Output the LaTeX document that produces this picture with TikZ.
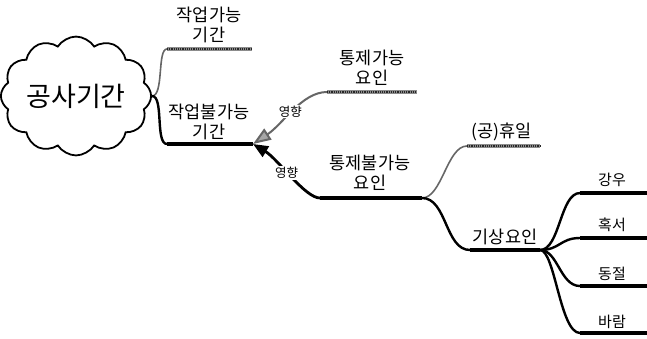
\documentclass[tikz,border=0pt]{standalone}
\usepackage{fontspec}
\newfontfamily\kr{Noto Sans CJK KR}
\usetikzlibrary{shapes.symbols,arrows.meta}
\begin{document}
\begin{tikzpicture}[x=1pt,y=-1pt,
  lbl/.style={font=\kr\fontsize{17.5}{20}\selectfont, align=center, inner sep=0pt},
  leaf/.style={font=\kr\fontsize{15}{16}\selectfont, inner sep=0pt},
  eff/.style={font=\kr\fontsize{12.5}{13}\selectfont, fill=white, inner sep=1pt},
  heavyline/.style={line width=4pt},
  heavycurve/.style={line width=2.4pt},
  grayline/.style={draw=black!45, line width=3.2pt,
     postaction={draw=black!85, line width=1.6pt, dash pattern=on 1.2pt off 1pt}},
  graycurve/.style={draw=black!60, line width=1.6pt},
  cloudbox/.style={cloud, draw, cloud puffs=12, cloud puff arc=115, cloud ignores aspect,
     minimum width=142pt, inner xsep=0pt, inner ysep=24pt, line width=1.8pt,
     font=\kr\fontsize{27}{30}\selectfont}
]
\useasboundingbox (0,0) rectangle (647,338);

% nodes
\node[cloudbox] (root) at (76,96) {공사기간};
\node[lbl] (tA) at (209,25) {작업가능\\기간};
\node[lbl] (tB) at (209,122) {작업불가능\\기간};
\node[lbl] (tC) at (372,68) {통제가능\\요인};
\node[lbl] (tD) at (370,173) {통제불가능\\요인};
\node[lbl] (tE) at (502,132) {(공)휴일};
\node[lbl] (tF) at (505,237) {기상요인};
\node[leaf] (tG) at (612,180) {강우};
\node[leaf] (tH) at (612,225) {혹서};
\node[leaf] (tI) at (612,274) {동절};
\node[leaf] (tJ) at (612,322) {바람};

% line ends
\coordinate (a1) at (167,49);  \coordinate (a2) at (252,49);
\coordinate (b1) at (167,144); \coordinate (b2) at (253,144);
\coordinate (c1) at (327,92);  \coordinate (c2) at (417,92);
\coordinate (d1) at (320,198); \coordinate (d2) at (422,198);
\coordinate (e1) at (467,146); \coordinate (e2) at (540,146);
\coordinate (f1) at (470,250); \coordinate (f2) at (540,250);
\coordinate (g1) at (580,193); \coordinate (g2) at (647,193);
\coordinate (h1) at (580,238); \coordinate (h2) at (647,238);
\coordinate (i1) at (580,286); \coordinate (i2) at (647,286);
\coordinate (j1) at (580,333); \coordinate (j2) at (647,333);

% cloud branches
\draw[graycurve] (root.east) .. controls +(12,0) and +(-10,0) .. (a1);
\path[grayline] (a1) -- (a2);
\draw[heavycurve] (root.east) .. controls +(12,0) and +(-12,0) .. (b1);
\draw[heavyline] (b1) -- (b2);

% controllable factors
\path[grayline] (c1) -- (c2);
\draw[graycurve, line width=2pt,
  -{Triangle[length=18pt,width=13pt,fill=black!35]}]
  (c1) .. controls +(-25,0) and +(30,-20) .. node[eff,pos=0.52]{영향} (b2);

% uncontrollable factors
\draw[heavyline] (d1) -- (d2);
\draw[heavycurve, line width=2.8pt, -{Triangle[length=15pt,width=12pt]}]
  (d1) .. controls +(-15,0) and +(25,15) .. node[eff,pos=0.55]{영향} (b2);

% holidays
\draw[graycurve] (d2) .. controls +(20,0) and +(-20,0) .. (e1);
\path[grayline] (e1) -- (e2);

% weather
\draw[heavycurve] (d2) .. controls +(25,0) and +(-25,0) .. (f1);
\draw[heavyline] (f1) -- (f2);

% fan
\draw[heavycurve] (f2) .. controls +(20,0) and +(-20,0) .. (g1);
\draw[heavyline] (g1) -- (g2);
\draw[heavycurve] (f2) .. controls +(20,0) and +(-20,0) .. (h1);
\draw[heavyline] (h1) -- (h2);
\draw[heavycurve] (f2) .. controls +(18,0) and +(-20,0) .. (i1);
\draw[heavyline] (i1) -- (i2);
\draw[heavycurve] (f2) .. controls +(15,0) and +(-20,0) .. (j1);
\draw[heavyline] (j1) -- (j2);
\end{tikzpicture}
\end{document}
